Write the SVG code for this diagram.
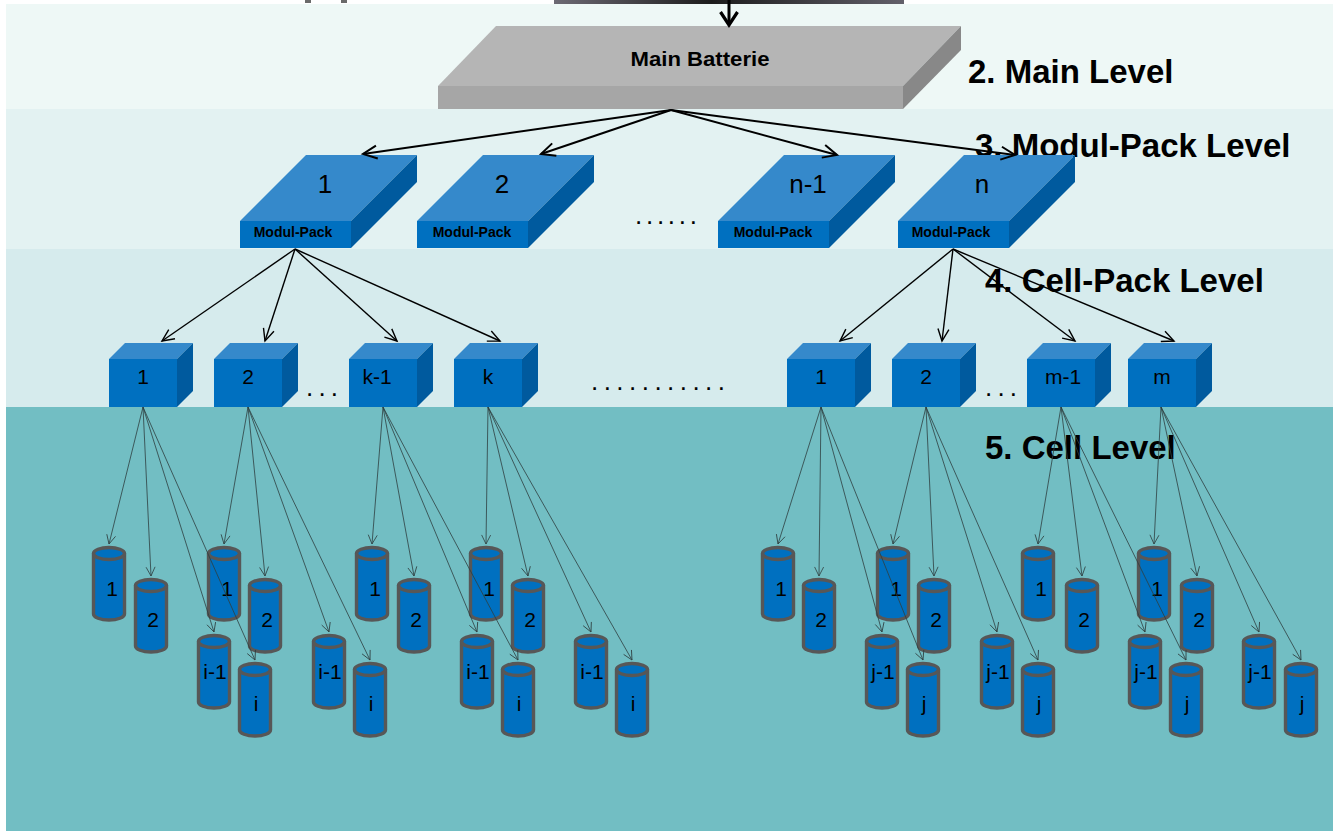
<svg xmlns="http://www.w3.org/2000/svg" xmlns:xlink="http://www.w3.org/1999/xlink" width="1333" height="831" viewBox="0 0 1333 831">
<style>
text{font-family:"Liberation Sans",Arial,sans-serif;fill:#000}
.lvl{font-size:33px;font-weight:bold}
.main{font-size:20px;font-weight:bold}
.mpl{font-size:14px;font-weight:bold}
.mpn{font-size:26px}
.cpn{font-size:21px;text-anchor:middle}
.cl{font-size:21px;text-anchor:middle}
.dots{font-size:26px}
.top{fill:#3589cb}.front{fill:#0070c0}.side{fill:#005a9e}
.cyl{fill:#0070c0;stroke:#575757;stroke-width:3.4}
.a1{stroke:#000;stroke-width:2;fill:none;marker-end:url(#mBig)}
.a2{stroke:#000;stroke-width:1.4;fill:none;marker-end:url(#mMid)}
.a3{stroke:#2f3f40;stroke-width:0.8;fill:none;marker-end:url(#mSmall)}
</style>
<defs>
<linearGradient id="gTop" x1="0" y1="0" x2="1" y2="0">
<stop offset="0" stop-color="#6d6a74"/><stop offset="0.45" stop-color="#1c1c1c"/><stop offset="1" stop-color="#62606a"/>
</linearGradient>
<marker id="mBig" markerUnits="userSpaceOnUse" markerWidth="30" markerHeight="30" viewBox="-15 -15 30 30" refX="0" refY="0" orient="auto" overflow="visible">
<path d="M-14,-6.5 L0,0 L-14,6.5" fill="none" stroke="#000" stroke-width="2"/>
</marker>
<marker id="mMid" markerUnits="userSpaceOnUse" markerWidth="30" markerHeight="30" viewBox="-15 -15 30 30" refX="0" refY="0" orient="auto" overflow="visible">
<path d="M-12,-5.5 L0,0 L-12,5.5" fill="none" stroke="#000" stroke-width="1.4"/>
</marker>
<marker id="mSmall" markerUnits="userSpaceOnUse" markerWidth="20" markerHeight="20" viewBox="-10 -10 20 20" refX="0" refY="0" orient="auto" overflow="visible">
<path d="M-9,-4.5 L0,0 L-9,4.5" fill="none" stroke="#2f3f40" stroke-width="0.8"/>
</marker>
<path id="cylBody" d="M-15.5,7.5 V68 A15.5,6 0 0 0 15.5,68 V7.5"/>
<ellipse id="cylTop" cx="0" cy="7.5" rx="15.5" ry="6"/>
</defs>

<g id="background">
<rect x="0" y="0" width="1333" height="831" fill="#ffffff"/>
<rect x="6" y="4" width="1327" height="105" fill="#eef8f6"/>
<rect x="6" y="109" width="1327" height="140" fill="#e3f2f2"/>
<rect x="6" y="249" width="1327" height="158" fill="#d6ebed"/>
<rect x="6" y="407" width="1327" height="424" fill="#72bec3"/>
<rect x="554" y="0" width="350" height="4" fill="url(#gTop)"/>
<rect x="305" y="0" width="6" height="3" fill="#6a6a6a"/>
<rect x="341" y="0" width="6" height="3" fill="#6a6a6a"/>
</g>

<g id="level-labels">
<text class="lvl" x="968" y="83">2. Main Level</text>
<text class="lvl" x="975" y="157">3. Modul-Pack Level</text>
<text class="lvl" x="985" y="292">4. Cell-Pack Level</text>
<text class="lvl" x="985" y="459">5. Cell Level</text>
</g>

<g id="main-batterie">
<polygon points="438,86 496,26 961,26 903,86" fill="#b5b5b5"/>
<polygon points="903,86 961,26 961,50 903,109" fill="#888888"/>
<rect x="438" y="86" width="465" height="23" fill="#a6a6a6"/>
<text class="main" x="700" y="66" text-anchor="middle" textLength="139" lengthAdjust="spacingAndGlyphs">Main Batterie</text>
</g>

<g id="modul-pack-1" transform="translate(240,0)">
<polygon class="top" points="0,221 66,155 177,155 111,221"/>
<polygon class="side" points="111,221 177,155 177,182 111,248"/>
<rect class="front" x="0" y="221" width="111" height="27"/>
<text class="mpn" x="85" y="193" text-anchor="middle">1</text>
<text class="mpl" x="53" y="237" text-anchor="middle">Modul-Pack</text>
</g>
<g id="modul-pack-2" transform="translate(417,0)">
<polygon class="top" points="0,221 66,155 177,155 111,221"/>
<polygon class="side" points="111,221 177,155 177,182 111,248"/>
<rect class="front" x="0" y="221" width="111" height="27"/>
<text class="mpn" x="85" y="193" text-anchor="middle">2</text>
<text class="mpl" x="55" y="237" text-anchor="middle">Modul-Pack</text>
</g>
<g id="modul-pack-n-1" transform="translate(718,0)">
<polygon class="top" points="0,221 66,155 177,155 111,221"/>
<polygon class="side" points="111,221 177,155 177,182 111,248"/>
<rect class="front" x="0" y="221" width="111" height="27"/>
<text class="mpn" x="90" y="193" text-anchor="middle">n-1</text>
<text class="mpl" x="55" y="237" text-anchor="middle">Modul-Pack</text>
</g>
<g id="modul-pack-n" transform="translate(898,0)">
<polygon class="top" points="0,221 66,155 177,155 111,221"/>
<polygon class="side" points="111,221 177,155 177,182 111,248"/>
<rect class="front" x="0" y="221" width="111" height="27"/>
<text class="mpn" x="84" y="193" text-anchor="middle">n</text>
<text class="mpl" x="53" y="237" text-anchor="middle">Modul-Pack</text>
</g>
<text id="dots-modul" class="dots" x="635" y="224" textLength="62" lengthAdjust="spacing">......</text>

<g id="cellpack-a1" transform="translate(109,0)">
<polygon class="top" points="0,359 16,343 84,343 68,359"/>
<polygon class="side" points="68,359 84,343 84,391 68,407"/>
<rect class="front" x="0" y="359" width="68" height="48"/>
<text class="cpn" x="34" y="384">1</text>
</g>
<g id="cellpack-a2" transform="translate(214,0)">
<polygon class="top" points="0,359 16,343 84,343 68,359"/>
<polygon class="side" points="68,359 84,343 84,391 68,407"/>
<rect class="front" x="0" y="359" width="68" height="48"/>
<text class="cpn" x="34" y="384">2</text>
</g>
<g id="cellpack-a-k-1" transform="translate(349,0)">
<polygon class="top" points="0,359 16,343 84,343 68,359"/>
<polygon class="side" points="68,359 84,343 84,391 68,407"/>
<rect class="front" x="0" y="359" width="68" height="48"/>
<text class="cpn" x="28" y="384">k-1</text>
</g>
<g id="cellpack-a-k" transform="translate(454,0)">
<polygon class="top" points="0,359 16,343 84,343 68,359"/>
<polygon class="side" points="68,359 84,343 84,391 68,407"/>
<rect class="front" x="0" y="359" width="68" height="48"/>
<text class="cpn" x="34" y="384">k</text>
</g>
<g id="cellpack-b1" transform="translate(787,0)">
<polygon class="top" points="0,359 16,343 84,343 68,359"/>
<polygon class="side" points="68,359 84,343 84,391 68,407"/>
<rect class="front" x="0" y="359" width="68" height="48"/>
<text class="cpn" x="34" y="384">1</text>
</g>
<g id="cellpack-b2" transform="translate(892,0)">
<polygon class="top" points="0,359 16,343 84,343 68,359"/>
<polygon class="side" points="68,359 84,343 84,391 68,407"/>
<rect class="front" x="0" y="359" width="68" height="48"/>
<text class="cpn" x="34" y="384">2</text>
</g>
<g id="cellpack-b-m-1" transform="translate(1027,0)">
<polygon class="top" points="0,359 16,343 84,343 68,359"/>
<polygon class="side" points="68,359 84,343 84,391 68,407"/>
<rect class="front" x="0" y="359" width="68" height="48"/>
<text class="cpn" x="36" y="384">m-1</text>
</g>
<g id="cellpack-b-m" transform="translate(1128,0)">
<polygon class="top" points="0,359 16,343 84,343 68,359"/>
<polygon class="side" points="68,359 84,343 84,391 68,407"/>
<rect class="front" x="0" y="359" width="68" height="48"/>
<text class="cpn" x="34" y="384">m</text>
</g>
<text id="dots-a" class="dots" x="306" y="396" textLength="32" lengthAdjust="spacing">...</text>
<text id="dots-b" class="dots" x="985" y="396" textLength="32" lengthAdjust="spacing">...</text>
<text id="dots-mid" class="dots" x="591" y="390" textLength="134" lengthAdjust="spacing">...........</text>

<g id="cells">
<g id="cell-a1-1" transform="translate(109,546)"><use href="#cylBody" class="cyl"/><use href="#cylTop" class="cyl"/><text class="cl" x="3" y="50">1</text></g>
<g id="cell-a1-2" transform="translate(151,578)"><use href="#cylBody" class="cyl"/><use href="#cylTop" class="cyl"/><text class="cl" x="2" y="49">2</text></g>
<g id="cell-a1-i-1" transform="translate(214,634)"><use href="#cylBody" class="cyl"/><use href="#cylTop" class="cyl"/><text class="cl" x="1" y="45">i-1</text></g>
<g id="cell-a1-i" transform="translate(255,662)"><use href="#cylBody" class="cyl"/><use href="#cylTop" class="cyl"/><text class="cl" x="1" y="49">i</text></g>

<g id="cell-a2-1" transform="translate(224,546)"><use href="#cylBody" class="cyl"/><use href="#cylTop" class="cyl"/><text class="cl" x="3" y="50">1</text></g>
<g id="cell-a2-2" transform="translate(265,578)"><use href="#cylBody" class="cyl"/><use href="#cylTop" class="cyl"/><text class="cl" x="2" y="49">2</text></g>
<g id="cell-a2-i-1" transform="translate(329,634)"><use href="#cylBody" class="cyl"/><use href="#cylTop" class="cyl"/><text class="cl" x="1" y="45">i-1</text></g>
<g id="cell-a2-i" transform="translate(370,662)"><use href="#cylBody" class="cyl"/><use href="#cylTop" class="cyl"/><text class="cl" x="1" y="49">i</text></g>

<g id="cell-a3-1" transform="translate(372,546)"><use href="#cylBody" class="cyl"/><use href="#cylTop" class="cyl"/><text class="cl" x="3" y="50">1</text></g>
<g id="cell-a3-2" transform="translate(414,578)"><use href="#cylBody" class="cyl"/><use href="#cylTop" class="cyl"/><text class="cl" x="2" y="49">2</text></g>
<g id="cell-a3-i-1" transform="translate(477,634)"><use href="#cylBody" class="cyl"/><use href="#cylTop" class="cyl"/><text class="cl" x="1" y="45">i-1</text></g>
<g id="cell-a3-i" transform="translate(518,662)"><use href="#cylBody" class="cyl"/><use href="#cylTop" class="cyl"/><text class="cl" x="1" y="49">i</text></g>

<g id="cell-a4-1" transform="translate(486,546)"><use href="#cylBody" class="cyl"/><use href="#cylTop" class="cyl"/><text class="cl" x="3" y="50">1</text></g>
<g id="cell-a4-2" transform="translate(528,578)"><use href="#cylBody" class="cyl"/><use href="#cylTop" class="cyl"/><text class="cl" x="2" y="49">2</text></g>
<g id="cell-a4-i-1" transform="translate(591,634)"><use href="#cylBody" class="cyl"/><use href="#cylTop" class="cyl"/><text class="cl" x="1" y="45">i-1</text></g>
<g id="cell-a4-i" transform="translate(632,662)"><use href="#cylBody" class="cyl"/><use href="#cylTop" class="cyl"/><text class="cl" x="1" y="49">i</text></g>

<g id="cell-b1-1" transform="translate(778,546)"><use href="#cylBody" class="cyl"/><use href="#cylTop" class="cyl"/><text class="cl" x="3" y="50">1</text></g>
<g id="cell-b1-2" transform="translate(819,578)"><use href="#cylBody" class="cyl"/><use href="#cylTop" class="cyl"/><text class="cl" x="2" y="49">2</text></g>
<g id="cell-b1-j-1" transform="translate(882,634)"><use href="#cylBody" class="cyl"/><use href="#cylTop" class="cyl"/><text class="cl" x="1" y="45">j-1</text></g>
<g id="cell-b1-j" transform="translate(923,662)"><use href="#cylBody" class="cyl"/><use href="#cylTop" class="cyl"/><text class="cl" x="1" y="49">j</text></g>

<g id="cell-b2-1" transform="translate(893,546)"><use href="#cylBody" class="cyl"/><use href="#cylTop" class="cyl"/><text class="cl" x="3" y="50">1</text></g>
<g id="cell-b2-2" transform="translate(934,578)"><use href="#cylBody" class="cyl"/><use href="#cylTop" class="cyl"/><text class="cl" x="2" y="49">2</text></g>
<g id="cell-b2-j-1" transform="translate(997,634)"><use href="#cylBody" class="cyl"/><use href="#cylTop" class="cyl"/><text class="cl" x="1" y="45">j-1</text></g>
<g id="cell-b2-j" transform="translate(1038,662)"><use href="#cylBody" class="cyl"/><use href="#cylTop" class="cyl"/><text class="cl" x="1" y="49">j</text></g>

<g id="cell-b3-1" transform="translate(1038,546)"><use href="#cylBody" class="cyl"/><use href="#cylTop" class="cyl"/><text class="cl" x="3" y="50">1</text></g>
<g id="cell-b3-2" transform="translate(1082,578)"><use href="#cylBody" class="cyl"/><use href="#cylTop" class="cyl"/><text class="cl" x="2" y="49">2</text></g>
<g id="cell-b3-j-1" transform="translate(1145,634)"><use href="#cylBody" class="cyl"/><use href="#cylTop" class="cyl"/><text class="cl" x="1" y="45">j-1</text></g>
<g id="cell-b3-j" transform="translate(1186,662)"><use href="#cylBody" class="cyl"/><use href="#cylTop" class="cyl"/><text class="cl" x="1" y="49">j</text></g>

<g id="cell-b4-1" transform="translate(1154,546)"><use href="#cylBody" class="cyl"/><use href="#cylTop" class="cyl"/><text class="cl" x="3" y="50">1</text></g>
<g id="cell-b4-2" transform="translate(1197,578)"><use href="#cylBody" class="cyl"/><use href="#cylTop" class="cyl"/><text class="cl" x="2" y="49">2</text></g>
<g id="cell-b4-j-1" transform="translate(1259,634)"><use href="#cylBody" class="cyl"/><use href="#cylTop" class="cyl"/><text class="cl" x="1" y="45">j-1</text></g>
<g id="cell-b4-j" transform="translate(1301,662)"><use href="#cylBody" class="cyl"/><use href="#cylTop" class="cyl"/><text class="cl" x="1" y="49">j</text></g>
</g>

<g id="connectors">
<line x1="729" y1="0" x2="729" y2="24" stroke="#000" stroke-width="3"/>
<path d="M720.5,12 L729,25 L737.5,12" fill="none" stroke="#000" stroke-width="3.2"/>

<line class="a1" x1="671" y1="110" x2="363" y2="154"/>
<line class="a1" x1="671" y1="110" x2="541" y2="154"/>
<line class="a1" x1="671" y1="110" x2="837" y2="155"/>
<line class="a1" x1="671" y1="110" x2="1015" y2="155"/>

<line class="a2" x1="295" y1="249" x2="162" y2="341"/>
<line class="a2" x1="295" y1="249" x2="265" y2="341"/>
<line class="a2" x1="295" y1="249" x2="397" y2="341"/>
<line class="a2" x1="295" y1="249" x2="500" y2="341"/>
<line class="a2" x1="953" y1="249" x2="840" y2="341"/>
<line class="a2" x1="953" y1="249" x2="942" y2="341"/>
<line class="a2" x1="953" y1="249" x2="1075" y2="341"/>
<line class="a2" x1="953" y1="249" x2="1174" y2="341"/>

<line class="a3" x1="143" y1="407" x2="109" y2="544"/>
<line class="a3" x1="143" y1="407" x2="151" y2="576"/>
<line class="a3" x1="143" y1="407" x2="214" y2="632"/>
<line class="a3" x1="143" y1="407" x2="255" y2="660"/>
<line class="a3" x1="248" y1="407" x2="224" y2="544"/>
<line class="a3" x1="248" y1="407" x2="265" y2="576"/>
<line class="a3" x1="248" y1="407" x2="329" y2="632"/>
<line class="a3" x1="248" y1="407" x2="370" y2="660"/>
<line class="a3" x1="383" y1="407" x2="372" y2="544"/>
<line class="a3" x1="383" y1="407" x2="414" y2="576"/>
<line class="a3" x1="383" y1="407" x2="477" y2="632"/>
<line class="a3" x1="383" y1="407" x2="518" y2="660"/>
<line class="a3" x1="488" y1="407" x2="486" y2="544"/>
<line class="a3" x1="488" y1="407" x2="528" y2="576"/>
<line class="a3" x1="488" y1="407" x2="591" y2="632"/>
<line class="a3" x1="488" y1="407" x2="632" y2="660"/>
<line class="a3" x1="821" y1="407" x2="778" y2="544"/>
<line class="a3" x1="821" y1="407" x2="819" y2="576"/>
<line class="a3" x1="821" y1="407" x2="882" y2="632"/>
<line class="a3" x1="821" y1="407" x2="923" y2="660"/>
<line class="a3" x1="926" y1="407" x2="893" y2="544"/>
<line class="a3" x1="926" y1="407" x2="934" y2="576"/>
<line class="a3" x1="926" y1="407" x2="997" y2="632"/>
<line class="a3" x1="926" y1="407" x2="1038" y2="660"/>
<line class="a3" x1="1061" y1="407" x2="1038" y2="544"/>
<line class="a3" x1="1061" y1="407" x2="1082" y2="576"/>
<line class="a3" x1="1061" y1="407" x2="1145" y2="632"/>
<line class="a3" x1="1061" y1="407" x2="1186" y2="660"/>
<line class="a3" x1="1161" y1="407" x2="1154" y2="544"/>
<line class="a3" x1="1161" y1="407" x2="1197" y2="576"/>
<line class="a3" x1="1161" y1="407" x2="1259" y2="632"/>
<line class="a3" x1="1161" y1="407" x2="1301" y2="660"/>
</g>
</svg>
